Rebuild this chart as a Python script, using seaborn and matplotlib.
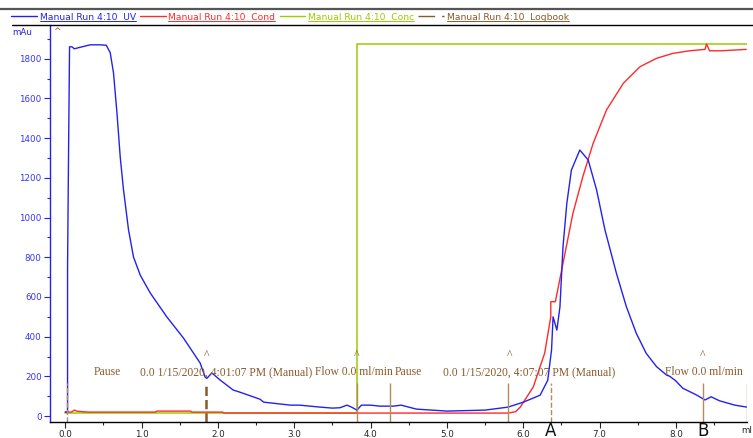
import matplotlib
matplotlib.use("Agg")
import matplotlib.pyplot as plt
from matplotlib.lines import Line2D
from matplotlib.ticker import MultipleLocator
import seaborn as sns

# UV trace (mAu) vs volume (ml)
uv_x = [0.0, 0.03, 0.03, 0.043, 0.056, 0.088, 0.118, 0.2, 0.327, 0.45, 0.537, 0.589,
        0.632, 0.677, 0.72, 0.763, 0.829, 0.894, 0.982, 1.113, 1.331, 1.548, 1.767,
        1.832, 1.855, 1.92, 2.03, 2.2, 2.29, 2.55, 2.6, 2.95, 3.07, 3.34, 3.5, 3.6,
        3.69, 3.75, 3.82, 3.88, 4.0, 4.12, 4.3, 4.4, 4.6, 5.0, 5.5, 5.8, 6.0, 6.22,
        6.32, 6.37, 6.39, 6.44, 6.48, 6.52, 6.57, 6.63, 6.74, 6.85, 6.96, 7.07, 7.22,
        7.35, 7.48, 7.61, 7.745, 7.875, 7.92, 7.96, 7.99, 8.09, 8.27, 8.38, 8.46,
        8.57, 8.77, 8.93]
uv_y = [20, 20, 745, 1325, 1860, 1860, 1850, 1858, 1870, 1870, 1868, 1830,
        1728, 1527, 1305, 1139, 937, 801, 710, 620, 499, 393, 267,
        196, 190, 217, 181, 131, 120, 85, 70, 55, 55, 45, 40, 42,
        55, 45, 30, 55, 55, 50, 50, 55, 35, 25, 30, 45, 70, 105,
        180, 333, 500, 433, 550, 853, 1071, 1239, 1340, 1290, 1139, 937, 719,
        551, 417, 316, 249, 207, 200, 188, 180, 140, 106, 81, 97,
        77, 55, 45]

# Conductivity trace
cond_x = [0.0, 0.08, 0.12, 0.16, 0.3, 1.18, 1.2, 1.64, 1.66, 2.06, 2.08, 5.8, 5.9,
          5.96, 6.13, 6.28, 6.36, 6.36, 6.42, 6.52, 6.65, 6.78, 6.915, 7.09, 7.31,
          7.53, 7.745, 7.96, 8.18, 8.38, 8.40, 8.44, 8.6, 8.92]
cond_y = [20, 20, 30, 24, 20, 20, 25, 25, 20, 20, 15, 15, 22,
          45, 146, 317, 500, 576, 576, 769, 1021, 1206, 1374, 1542, 1676,
          1760, 1802, 1827, 1840, 1847, 1874, 1840, 1840, 1847]

# Concentration trace (scaled to mAu axis)
conc_x = [0.0, 3.82, 3.82, 8.93]
conc_y = [15, 15, 1874, 1874]

# Logbook events
log_x = [0.02, 1.85, 3.82, 4.25, 5.80, 6.36, 8.35, 8.93]
log_style = ["--", "--", "-", "-", "-", "--", "-", "-"]
log_width = [1.0, 1.8, 1.0, 1.0, 1.0, 1.0, 1.0, 1.0]
caret_x = [1.85, 3.82, 5.82, 8.35]
note_x = [0.37, 0.98, 3.27, 4.32, 4.95, 7.86]
note_text = ["Pause", "0.0 1/15/2020, 4:01:07 PM (Manual)", "Flow 0.0 ml/min",
             "Pause", "0.0 1/15/2020, 4:07:07 PM (Manual)", "Flow 0.0 ml/min"]
mark_x = [6.36, 8.35]
mark_text = ["A", "B"]

blue = "#2222ee"
red = "#ff2a2a"
green = "#9acd00"
brown = "#8b5a2b"
tan = "#b58a5c"

sns.set_style("white")
plt.rcParams["font.family"] = ["DejaVu Sans"]

fig = plt.figure(figsize=(7.53, 4.38), dpi=100)
ax = fig.add_axes([0.0664, 0.0365, 0.9256, 0.9065])

sns.lineplot(x=conc_x, y=conc_y, ax=ax, color=green, lw=1.1, estimator=None, sort=False)
sns.lineplot(x=cond_x, y=cond_y, ax=ax, color=red, lw=1.0, estimator=None, sort=False)
sns.lineplot(x=uv_x, y=uv_y, ax=ax, color=blue, lw=1.0, estimator=None, sort=False)

for x, ls, w in zip(log_x, log_style, log_width):
    ax.vlines(x, -30, 165, colors=brown if w > 1 else tan, linestyles=ls, lw=w)
for x in caret_x:
    ax.text(x, 307, "^", color=brown, ha="center", va="center", fontsize=8.5,
            family="Liberation Serif")
for x, t in zip(note_x, note_text):
    ax.text(x, 222, t, color=brown, ha="left", va="center", fontsize=8.4,
            family="Liberation Serif")

ax.set_xlim(-0.2, 8.93)
ax.set_ylim(-30, 1970)
ax.set_yticks(range(0, 1801, 200))
ax.yaxis.set_minor_locator(MultipleLocator(100))
ax.set_xticks([0, 1, 2, 3, 4, 5, 6, 7, 8])
ax.set_xticklabels(["0.0", "1.0", "2.0", "3.0", "4.0", "5.0", "6.0", "7.0", "8.0"])
ax.xaxis.set_minor_locator(MultipleLocator(0.5))
ax.tick_params(axis="both", which="major", direction="out", length=4, width=0.8,
               labelsize=6.3, pad=2)
ax.tick_params(axis="both", which="minor", direction="out", length=2, width=0.8)
ax.tick_params(axis="y", which="both", colors=blue, labelcolor="#3535f5", left=True)
ax.tick_params(axis="x", which="both", bottom=True)
for s in ["top", "right"]:
    ax.spines[s].set_visible(False)
ax.spines["left"].set_color(blue)
ax.spines["bottom"].set_color("black")
ax.spines["left"].set_linewidth(1.0)
ax.spines["bottom"].set_linewidth(1.0)

for x, t in zip(mark_x, mark_text):
    ax.text(x, -98, t, ha="center", va="baseline", fontsize=12, color="#111111",
            clip_on=False)

fig.text(0.016, 0.925, "mAu", color=blue, fontsize=6.3, va="center")
fig.text(0.07, 0.928, "^", color=brown, fontsize=6.5, va="center")
fig.text(0.999, 0.018, "ml", fontsize=6.3, va="center", ha="right")

# top legend bar
handles = [Line2D([], [], color=blue, lw=1), Line2D([], [], color=red, lw=1),
           Line2D([], [], color=green, lw=1),
           Line2D([], [], color=brown, lw=1, linestyle=(0, (12, 5, 2, 20)))]
labels = ["Manual Run 4:10  UV", "Manual Run 4:10  Cond", "Manual Run 4:10  Conc",
          "Manual Run 4:10  Logbook"]
leg = fig.legend(handles, labels, loc="center left", bbox_to_anchor=(0.015, 0.961),
                 ncol=4, frameon=False, fontsize=6.6, handlelength=2.8,
                 handletextpad=0.3, columnspacing=0.45, borderpad=0, borderaxespad=0)
for t, c in zip(leg.get_texts(), [blue, red, green, brown]):
    t.set_color(c)
fig.add_artist(Line2D([0.0, 1.0], [0.980, 0.980], color="#555555", lw=1.6,
                      transform=fig.transFigure))
fig.add_artist(Line2D([0.016, 1.0], [0.943, 0.943], color="black", lw=1.0,
                      transform=fig.transFigure))

fig.canvas.draw()
inv = fig.transFigure.inverted()
for t, c in zip(leg.get_texts(), [blue, red, green, brown]):
    bb = t.get_window_extent().transformed(inv)
    fig.add_artist(Line2D([bb.x0, bb.x1], [bb.y0 + 0.002, bb.y0 + 0.002], color=c,
                          lw=0.7, transform=fig.transFigure))

fig.savefig("out.png", dpi=100)
